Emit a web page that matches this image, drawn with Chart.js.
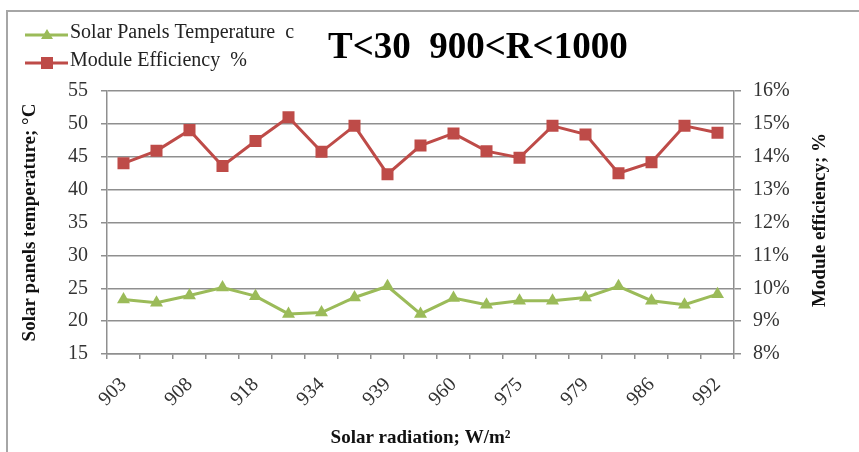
<!DOCTYPE html>
<html>
<head>
<meta charset="utf-8">
<script src="https://cdn.jsdelivr.net/npm/chart.js@4/dist/chart.umd.min.js"></script>
<style>
  html, body { margin: 0; padding: 0; background: #fff; }
  #wrap { position: relative; width: 859px; height: 452px; }
</style>
</head>
<body>
<div id="wrap"><canvas id="chart"></canvas></div>
<script>
// solar radiation, W/m2 (every other label is shown on the axis)
const radiation = ['903', '905', '908', '912', '918', '925', '934', '937', '939', '950',
  '960', '970', '975', '977', '979', '983', '986', '990', '992'];
// solar panels temperature, °C
const panelTemp = [23.3, 22.8, 23.9, 25.1, 23.8, 21.1, 21.3, 23.6, 25.3, 21.1,
  23.5, 22.5, 23.1, 23.1, 23.6, 25.3, 23.1, 22.5, 24.1];
// module efficiency, %
const efficiency = [13.80, 14.18, 14.81, 13.72, 14.48, 15.20, 14.15, 14.94, 13.47, 14.34,
  14.71, 14.17, 13.97, 14.94, 14.68, 13.50, 13.83, 14.94, 14.73];

const tempTicks = [15, 55, 5];
const effTicks = [8, 16, 1];

const serif = "'Liberation Serif', 'Times New Roman', serif";
const gridColor = '#8f8f8f';
const green = '#9bbb59';
const red = '#be4b48';

// frame, legend, heading and the right axis title (reads bottom to top)
const decorations = {
  id: 'decorations',
  beforeDraw(chart) {
    const ctx = chart.ctx;
    ctx.save();
    ctx.strokeStyle = '#a6a6a6';
    ctx.lineWidth = 2;
    ctx.beginPath();
    ctx.moveTo(859, 11);
    ctx.lineTo(7, 11);
    ctx.lineTo(7, 452);
    ctx.stroke();
    ctx.restore();
  },
  afterDraw(chart) {
    const ctx = chart.ctx;
    ctx.save();
    // legend row 1
    ctx.lineWidth = 3;
    ctx.strokeStyle = green;
    ctx.beginPath();
    ctx.moveTo(25, 35);
    ctx.lineTo(68, 35);
    ctx.stroke();
    ctx.fillStyle = green;
    ctx.beginPath();
    ctx.moveTo(47, 29);
    ctx.lineTo(53, 39);
    ctx.lineTo(41, 39);
    ctx.closePath();
    ctx.fill();
    // legend row 2
    ctx.strokeStyle = red;
    ctx.beginPath();
    ctx.moveTo(25, 63);
    ctx.lineTo(68, 63);
    ctx.stroke();
    ctx.fillStyle = red;
    ctx.fillRect(41, 57, 12, 12);

    ctx.fillStyle = '#222';
    ctx.font = '20px ' + serif;
    ctx.textBaseline = 'alphabetic';
    ctx.textAlign = 'left';
    ctx.fillText('Solar Panels Temperature  c', 70, 38);
    ctx.fillText('Module Efficiency  %', 70, 66);

    ctx.fillStyle = '#000';
    ctx.font = 'bold 37px ' + serif;
    ctx.fillText('T<30  900<R<1000', 328, 58);

    ctx.translate(820, 220);
    ctx.rotate(-Math.PI / 2);
    ctx.fillStyle = '#111';
    ctx.font = 'bold 19px ' + serif;
    ctx.textAlign = 'center';
    ctx.textBaseline = 'middle';
    ctx.fillText('Module efficiency; %', 0, 0);
    ctx.restore();
  }
};

new Chart(document.getElementById('chart'), {
  type: 'line',
  data: {
    labels: radiation,
    datasets: [
      {
        label: 'Solar Panels Temperature  c',
        data: panelTemp,
        yAxisID: 'y',
        borderColor: green,
        backgroundColor: green,
        borderWidth: 3,
        pointStyle: 'triangle',
        pointRadius: 7.5,
        pointBorderWidth: 0,
        tension: 0
      },
      {
        label: 'Module Efficiency  %',
        data: efficiency,
        yAxisID: 'y1',
        borderColor: red,
        backgroundColor: red,
        borderWidth: 3,
        pointStyle: 'rect',
        pointRadius: 8.5,
        pointBorderWidth: 0,
        tension: 0
      }
    ]
  },
  options: {
    responsive: true,
    maintainAspectRatio: false,
    animation: false,
    layout: { padding: { top: 91, left: 0, right: 0, bottom: 0 } },
    plugins: {
      legend: { display: false },
      tooltip: { enabled: false }
    },
    scales: {
      x: {
        offset: true,
        afterFit: (scale) => { scale.height = 98; },
        grid: { offset: true, drawOnChartArea: false, color: gridColor, tickLength: 5, lineWidth: 1.5 },
        border: { color: gridColor, width: 1.5 },
        ticks: {
          autoSkip: false,
          minRotation: 45,
          maxRotation: 45,
          padding: 14,
          color: '#333',
          font: { family: serif, size: 20 },
          callback: function (value, index) {
            return index % 2 === 0 ? this.getLabelForValue(value) : '';
          }
        },
        title: {
          display: true,
          text: 'Solar radiation; W/m²',
          color: '#111',
          font: { family: serif, size: 19, weight: 'bold' },
          padding: { top: 0, bottom: 3 }
        }
      },
      y: {
        position: 'left',
        min: tempTicks[0],
        max: tempTicks[1],
        afterFit: (scale) => { scale.width = 107; },
        grid: { color: gridColor, tickLength: 6, lineWidth: 1.5 },
        border: { color: gridColor, width: 1.5 },
        ticks: {
          stepSize: tempTicks[2],
          padding: 13,
          color: '#333',
          font: { family: serif, size: 20 }
        },
        title: {
          display: true,
          text: 'Solar panels temperature; °C',
          color: '#111',
          font: { family: serif, size: 19, weight: 'bold' },
          padding: { top: 19, bottom: 0 }
        }
      },
      y1: {
        position: 'right',
        min: effTicks[0],
        max: effTicks[1],
        afterFit: (scale) => { scale.width = 125; },
        grid: { drawOnChartArea: false, color: gridColor, tickLength: 7, lineWidth: 1.5 },
        border: { color: gridColor, width: 1.5 },
        ticks: {
          stepSize: effTicks[2],
          padding: 12,
          color: '#333',
          font: { family: serif, size: 20 },
          callback: (v) => v + '%'
        }
      }
    }
  },
  plugins: [decorations]
});
</script>
</body>
</html>
